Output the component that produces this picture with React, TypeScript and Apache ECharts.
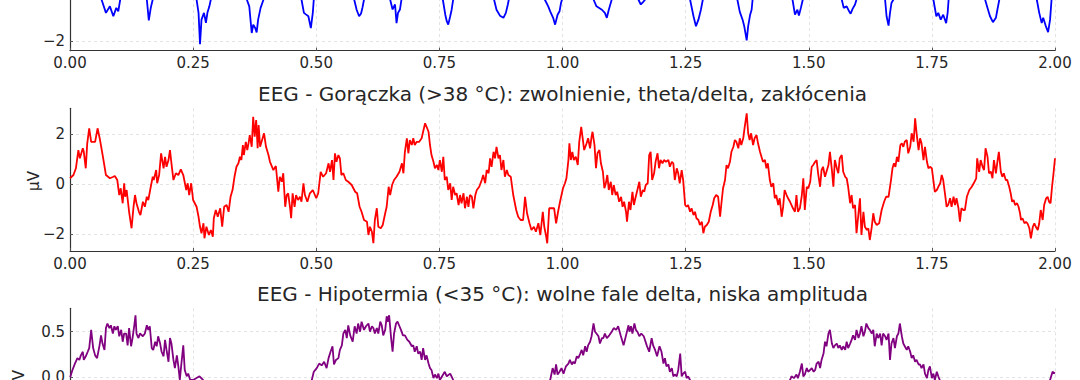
import React, { useEffect, useRef } from "react";
import * as echarts from "echarts";

const titleFever = "EEG - Gorączka (>38 °C): zwolnienie, theta/delta, zakłócenia";
const titleHypo = "EEG - Hipotermia (<35 °C): wolne fale delta, niska amplituda";
const yName = "μV";

const xTicks = [0, 0.25, 0.5, 0.75, 1, 1.25, 1.5, 1.75, 2];
const normalYTicks = [-2, 0, 2];
const normalYLabels = [-2];
const feverYTicks = [-2, 0, 2];
const hypoYTicks = [-0.5, 0, 0.5];

const normalPoints: [number, number][] = [
  [0, 0.4], [0.03, 1.6], [0.064, -0.65], [0.073, -1.08], [0.081, -0.87], [0.088, -1.19], [0.094, -0.92], [0.098, -1.03], [0.102, -0.65],
  [0.129, 1.5], [0.156, -0.65], [0.16, -1.32], [0.164, -0.92], [0.168, -0.65],
  [0.21, 1.7], [0.257, -0.65], [0.261, -1.08], [0.264, -2.09], [0.267, -1.3], [0.272, -1.08], [0.276, -1.4], [0.279, -1.08], [0.283, -0.87], [0.286, -0.65],
  [0.322, 1.6], [0.359, -0.65], [0.364, -0.87], [0.369, -1.73], [0.372, -1.46], [0.376, -1.57], [0.379, -1.71], [0.382, -1.3], [0.387, -0.92], [0.393, -0.65],
  [0.43, 1.8], [0.47, -0.65], [0.475, -1.08], [0.479, -1.13], [0.484, -1.19], [0.489, -1.57], [0.493, -1.08], [0.495, -0.65],
  [0.536, 1.6], [0.577, -0.65], [0.582, -0.98], [0.587, -1.19], [0.591, -1.1], [0.594, -0.9], [0.597, -0.65],
  [0.623, 1.5], [0.65, -0.65], [0.655, -0.97], [0.66, -0.81], [0.663, -1.41], [0.666, -1.08], [0.67, -0.97], [0.673, -0.65],
  [0.715, 1.7], [0.757, -0.65], [0.762, -1.14], [0.765, -1.35], [0.768, -1.46], [0.772, -1.19], [0.775, -0.97], [0.778, -0.65],
  [0.82, 1.6], [0.861, -0.65], [0.866, -0.98], [0.873, -1.17], [0.88, -1.24], [0.885, -1.08], [0.889, -0.81], [0.891, -0.65],
  [0.928, 1.7], [0.964, -0.65], [0.971, -0.87], [0.975, -1.03], [0.981, -1.24], [0.985, -1.46], [0.99, -1.14], [0.994, -1.03], [0.997, -0.76], [0.999, -0.65],
  [1.031, 1.6], [1.063, -0.65], [1.069, -0.87], [1.08, -0.98], [1.086, -1.08], [1.09, -1.24], [1.094, -0.98], [1.1, -0.65],
  [1.127, 1.4], [1.154, -0.65], [1.159, -0.81], [1.163, -0.74], [1.168, -0.65],
  [1.213, 1.8], [1.259, -0.65], [1.266, -1.19], [1.271, -1.51], [1.276, -1.3], [1.281, -0.98], [1.285, -0.65],
  [1.32, 1.6], [1.355, -0.65], [1.36, -1.05], [1.366, -1.32], [1.369, -1.51], [1.374, -1.97], [1.377, -1.51], [1.381, -1.14], [1.384, -0.98], [1.386, -0.65],
  [1.426, 1.7], [1.467, -0.65], [1.472, -1.14], [1.477, -0.98], [1.48, -1.17], [1.484, -0.92], [1.488, -0.65],
  [1.527, 1.6], [1.567, -0.65], [1.571, -0.92], [1.577, -0.87], [1.582, -1.03], [1.585, -1.11], [1.589, -0.95], [1.594, -0.81], [1.597, -0.65],
  [1.626, 1.5], [1.655, -0.65], [1.658, -1.19], [1.662, -1.49], [1.665, -1.08], [1.668, -0.76], [1.672, -0.65],
  [1.712, 1.7], [1.753, -0.65], [1.759, -1.19], [1.763, -1.08], [1.768, -1.3], [1.773, -1.14], [1.779, -1.41], [1.782, -1.08], [1.784, -0.65],
  [1.821, 1.6], [1.858, -0.65], [1.863, -0.92], [1.868, -1.19], [1.874, -1.38], [1.88, -1.24], [1.883, -0.98], [1.887, -0.65],
  [1.925, 1.7], [1.963, -0.65], [1.968, -1.08], [1.973, -1.41], [1.976, -1.24], [1.981, -1.49], [1.986, -1.7], [1.99, -1.3], [1.993, -0.65], [2.0, 0.6],
];

const feverPoints: [number, number][] = [
  [0, 0.23], [0.007, 0.36], [0.012, 0.63], [0.017, 1.36], [0.02, 1.03], [0.026, 1.43], [0.028, 1.29], [0.032, 0.63], [0.035, 1.63], [0.039, 2.23], [0.043, 1.69], [0.051, 1.69], [0.056, 2.23], [0.061, 1.76], [0.068, 0.96], [0.073, 0.36], [0.081, 0.23], [0.088, 0.29], [0.091, 0.32], [0.096, 0.16], [0.1, -0.44], [0.103, -0.17], [0.107, -0.77], [0.11, 0.03], [0.112, -0.51], [0.115, -0.24], [0.12, -1.11], [0.125, -1.77], [0.129, -0.91], [0.132, -0.44], [0.135, -0.77], [0.14, -1.11], [0.143, -1.24], [0.148, -0.71], [0.152, -0.91], [0.156, -0.51], [0.159, -0.64], [0.164, -0.11], [0.168, 0.29], [0.17, 0.16], [0.175, 0.56], [0.177, 0.03], [0.181, 0.36], [0.185, 1.23], [0.19, 0.63], [0.193, 1.09], [0.196, 0.69], [0.2, 0.96], [0.203, 1.36], [0.206, 0.83], [0.21, 0.16], [0.215, 0.43], [0.22, 0.36], [0.225, 0.59], [0.23, 0.36], [0.236, -0.24], [0.239, 0.03], [0.242, -0.44], [0.246, 0.03], [0.25, -0.64], [0.257, -0.91], [0.261, -1.31], [0.264, -1.71], [0.267, -1.97], [0.271, -1.57], [0.273, -2.17], [0.277, -1.71], [0.282, -2.04], [0.286, -1.84], [0.29, -2.11], [0.292, -1.37], [0.296, -1.04], [0.3, -1.31], [0.305, -0.97], [0.309, -1.71], [0.313, -0.91], [0.318, -0.84], [0.322, -1.11], [0.326, -0.51], [0.33, -0.24], [0.334, 0.29], [0.338, 0.69], [0.342, 0.83], [0.345, 1.09], [0.348, 0.96], [0.351, 1.56], [0.353, 1.16], [0.357, 1.69], [0.36, 1.36], [0.363, 1.69], [0.365, 1.96], [0.369, 1.49], [0.372, 2.69], [0.375, 1.89], [0.378, 2.56], [0.381, 1.43], [0.383, 2.36], [0.386, 1.49], [0.39, 1.76], [0.394, 2.03], [0.398, 1.49], [0.403, 1.16],
  [0.406, 0.89], [0.413, 0.56], [0.418, 0.72], [0.423, -0.31], [0.426, 0.29], [0.43, 0.09], [0.433, 0.43], [0.437, -0.91], [0.44, -0.44], [0.443, -0.37], [0.447, -0.97], [0.449, -1.37], [0.452, -0.37], [0.456, -0.91], [0.459, -0.44], [0.463, -0.64], [0.467, -0.51], [0.47, -0.71], [0.474, 0.03], [0.477, -0.44], [0.482, -0.71], [0.487, -0.37], [0.493, -0.24], [0.5, -0.57], [0.504, -0.37], [0.509, 0.49], [0.514, 0.29], [0.52, 0.43], [0.525, 0.83], [0.528, 0.49], [0.532, 0.96], [0.535, 0.16], [0.538, 1.23], [0.541, 0.89], [0.545, 1.16], [0.548, 1.03], [0.551, 0.36], [0.555, 0.43], [0.56, 0.16], [0.565, 0.09], [0.572, -0.04], [0.579, -0.31], [0.583, -0.37], [0.588, -0.91], [0.592, -1.11], [0.597, -1.44], [0.603, -1.51], [0.606, -2.04], [0.609, -1.71], [0.613, -1.91], [0.616, -2.37], [0.619, -1.44], [0.623, -0.97], [0.626, -1.71], [0.631, -1.77], [0.635, -1.64], [0.64, -1.17], [0.643, -0.91], [0.647, -0.11], [0.65, -0.44], [0.654, -0.04], [0.658, 0.16], [0.663, 0.29], [0.669, 0.49], [0.674, 0.83], [0.677, 0.43], [0.68, 1.29], [0.684, 1.83], [0.687, 1.23], [0.69, 1.76], [0.694, 1.56], [0.697, 1.83], [0.7, 1.56], [0.704, 1.69], [0.709, 1.69], [0.714, 1.83], [0.717, 2.09], [0.721, 2.43], [0.724, 2.29], [0.728, 2.09], [0.731, 1.56], [0.734, 1.16], [0.738, 0.89], [0.741, 0.63], [0.745, 0.76], [0.748, 0.56], [0.751, 0.96], [0.755, 0.49], [0.758, 1.09], [0.761, 0.16], [0.765, 0.29], [0.768, -0.24], [0.772, 0.03], [0.775, -0.64], [0.778, -0.11], [0.782, -0.44], [0.785, -0.37], [0.789, -0.84], [0.792, -0.44], [0.795, -0.77], [0.799, -0.37], [0.802, -0.97], [0.806, -0.51], [0.809, -0.91], [0.812, -0.44], [0.816, -0.51], [0.819, -0.97], [0.823, -0.44], [0.826, -0.24], [0.831, -0.11], [0.836, 0.16], [0.839, 0.36], [0.843, 0.03], [0.846, 0.56], [0.85, 0.43], [0.853, 1.03], [0.856, 0.69], [0.86, 1.29], [0.863, 1.03], [0.866, 1.49], [0.87, 1.03], [0.873, 1.16], [0.876, 0.56], [0.88, 0.96], [0.883, 0.29], [0.887, 0.56], [0.89, 0.36], [0.895, 0.29], [0.9, -0.44], [0.906, -1.04], [0.91, -1.31], [0.915, -1.44], [0.92, -1.44], [0.924, -0.51], [0.928, -1.17], [0.933, -1.57], [0.937, -1.84], [0.942, -1.71], [0.946, -1.91], [0.951, -1.57],
  [0.955, -2.04], [0.96, -1.11], [0.963, -1.71], [0.967, -2.11], [0.969, -2.37], [0.973, -0.97], [0.978, -0.97], [0.983, -0.97], [0.987, -1.57], [0.991, -1.11], [0.995, -0.71], [0.998, -0.44], [1.001, -0.17], [1.005, 0.03], [1.008, 0.23], [1.012, 0.96], [1.014, 1.63], [1.017, 0.96], [1.02, 1.29], [1.023, 0.96], [1.027, 1.09], [1.031, 0.76], [1.034, 1.69], [1.038, 2.29], [1.041, 1.83], [1.044, 1.36], [1.049, 1.63], [1.052, 1.83], [1.056, 1.43], [1.059, 1.89], [1.061, 2.09], [1.065, 1.56], [1.068, 0.63], [1.071, 1.23], [1.075, 1.36], [1.078, 0.83], [1.082, 0.49], [1.085, -0.17], [1.088, 0.03], [1.091, 0.36], [1.094, -0.24], [1.098, 0.09], [1.101, -0.44], [1.104, -0.04], [1.108, -0.44], [1.111, -0.31], [1.115, -0.71], [1.119, -0.51], [1.122, -0.91], [1.125, -0.71], [1.129, -1.11], [1.131, -1.51], [1.135, -0.71], [1.138, -1.04], [1.142, -0.31], [1.145, -0.84], [1.148, -0.57], [1.152, -0.24], [1.156, 0.09], [1.159, -0.51], [1.163, -0.24], [1.166, -0.31], [1.169, -0.04], [1.173, 0.03], [1.176, 1.16], [1.179, 1.29], [1.182, 0.16], [1.186, 0.43], [1.189, 0.89], [1.193, 1.23], [1.196, 0.63], [1.199, 0.96], [1.203, 0.83], [1.206, 0.96], [1.21, 0.89], [1.215, 0.96], [1.218, 0.69], [1.222, 0.89], [1.225, 0.83], [1.228, 0.16], [1.232, 0.63], [1.235, 0.43], [1.238, 0.03], [1.242, 0.56], [1.245, 0.16], [1.249, -0.84], [1.252, -0.91], [1.255, -0.84], [1.259, -1.11], [1.262, -0.97], [1.266, -1.24], [1.269, -1.11], [1.272, -1.37], [1.276, -1.44], [1.279, -1.64], [1.283, -1.51], [1.286, -1.97], [1.289, -1.71], [1.293, -1.64], [1.297, -1.51], [1.301, -1.11], [1.305, -0.84], [1.308, -0.57], [1.312, -0.44], [1.316, -0.51], [1.32, -1.31], [1.323, -0.71], [1.326, -0.17], [1.33, 0.16], [1.333, 0.76], [1.336, 0.63], [1.34, 0.89], [1.343, 1.29], [1.347, 1.49], [1.35, 1.76], [1.353, 1.69], [1.357, 1.43], [1.36, 1.83], [1.363, 1.56], [1.367, 1.83], [1.37, 2.29], [1.374, 2.83], [1.377, 2.03], [1.38, 1.76], [1.383, 2.03], [1.387, 1.56], [1.39, 1.83], [1.394, 1.96], [1.397, 1.63], [1.401, 1.29], [1.404, 1.09], [1.407, 0.89], [1.411, 0.96], [1.414, 0.63], [1.417, 0.83], [1.421, 0.16], [1.424, -0.11], [1.428, 0.03], [1.431, -0.57], [1.434, -0.44], [1.438, -0.84], [1.441, -0.57], [1.445, -1.31], [1.448, -0.91], [1.451, -0.24], [1.455, -0.44], [1.458, -0.57], [1.462, -0.71], [1.465, -0.84], [1.468, -0.97], [1.472, -1.11], [1.475, -0.44], [1.478, -1.11],
  [1.482, -0.97], [1.486, -0.44], [1.489, 0.23], [1.492, -1.04], [1.496, -0.11], [1.499, -0.17], [1.503, 0.09], [1.506, 0.69], [1.509, 0.76], [1.513, 0.89], [1.516, 0.96], [1.519, 0.43], [1.523, -0.11], [1.526, 0.56], [1.529, 0.69], [1.533, 0.29], [1.536, 0.49], [1.54, 0.76], [1.543, 1.29], [1.547, 0.56], [1.55, -0.11], [1.553, 0.96], [1.557, 0.63], [1.56, 0.43], [1.563, 1.03], [1.567, 1.16], [1.57, 0.49], [1.574, 0.29], [1.577, 0.23], [1.58, -0.11], [1.584, -0.77], [1.587, -0.44], [1.59, -0.97], [1.594, -0.84], [1.597, -1.97], [1.601, -1.17], [1.604, -0.57], [1.607, -2.04], [1.611, -1.11], [1.614, -1.71], [1.618, -1.84], [1.621, -1.77], [1.624, -2.24], [1.628, -1.71], [1.631, -1.17], [1.634, -1.51], [1.638, -1.64], [1.643, -1.57], [1.648, -1.04], [1.653, -0.71], [1.657, -0.51], [1.662, -0.51], [1.667, 0.16], [1.67, 0.63], [1.673, 0.83], [1.676, 0.69], [1.679, 1.09], [1.682, 0.89], [1.686, 1.56], [1.689, 1.63], [1.692, 1.49], [1.695, 1.69], [1.699, 1.76], [1.702, 1.23], [1.706, 1.49], [1.709, 2.03], [1.713, 1.69], [1.716, 2.63], [1.719, 2.03], [1.723, 1.36], [1.726, 1.83], [1.729, 1.63], [1.733, 0.96], [1.736, 1.49], [1.74, 0.89], [1.743, 0.63], [1.746, 0.69], [1.75, 0.63], [1.753, 0.16], [1.756, -0.31], [1.76, -0.24], [1.763, -0.11], [1.767, 0.03], [1.77, 0.36], [1.773, 0.16], [1.777, -0.44], [1.78, -0.91], [1.783, -0.84], [1.787, -0.57], [1.79, -0.91], [1.794, -0.51], [1.797, -0.84], [1.8, -0.57], [1.804, -0.97], [1.807, -1.51], [1.81, -0.97], [1.814, -1.04], [1.817, -1.04], [1.821, -0.51], [1.826, -0.24], [1.831, -0.11], [1.835, 0.03], [1.84, 0.23], [1.842, 1.03], [1.846, 0.49], [1.849, 0.96], [1.853, 0.69], [1.856, 0.56], [1.859, 1.43], [1.863, 1.09], [1.866, 0.43], [1.87, 0.49], [1.873, 0.23], [1.876, 0.96], [1.88, 0.43], [1.883, 0.89], [1.886, 1.29], [1.89, 0.49], [1.893, 0.29], [1.896, 0.43], [1.9, 0.16], [1.903, 0.16], [1.907, -0.11], [1.91, -0.37], [1.913, -0.71], [1.916, -0.64], [1.919, -0.84], [1.923, -0.77], [1.926, -0.91], [1.929, -1.17], [1.931, -1.44], [1.934, -1.37], [1.938, -1.57], [1.941, -1.51], [1.944, -1.57], [1.948, -1.77], [1.951, -2.17], [1.955, -1.71], [1.958, -1.57], [1.961, -1.71], [1.965, -1.84], [1.968, -1.57], [1.971, -1.04], [1.975, -1.44], [1.978, -0.84], [1.982, -0.57], [1.985, -0.51], [1.988, -0.71], [1.991, -0.77], [1.994, -0.11], [1.997, 0.43], [2.0, 1.03],
];

const hypoPoints: [number, number][] = [
  [0, 0.0], [0.001, 0.01], [0.005, 0.08], [0.01, 0.15], [0.015, 0.21], [0.019, 0.19], [0.022, 0.24], [0.026, 0.28], [0.028, 0.19], [0.032, 0.23], [0.036, 0.28], [0.039, 0.32], [0.043, 0.52], [0.047, 0.32], [0.051, 0.24], [0.055, 0.21], [0.06, 0.35], [0.063, 0.46], [0.066, 0.37], [0.07, 0.3], [0.073, 0.54], [0.076, 0.59], [0.08, 0.54], [0.083, 0.57], [0.087, 0.48], [0.09, 0.56], [0.093, 0.52], [0.097, 0.56], [0.1, 0.45], [0.104, 0.52], [0.107, 0.39], [0.11, 0.48], [0.114, 0.48], [0.117, 0.35], [0.12, 0.54], [0.124, 0.34], [0.127, 0.43], [0.131, 0.59], [0.133, 0.68], [0.135, 0.48], [0.139, 0.43], [0.142, 0.48], [0.148, 0.45], [0.152, 0.48], [0.156, 0.57], [0.159, 0.52], [0.162, 0.56], [0.166, 0.32], [0.169, 0.3], [0.173, 0.39], [0.176, 0.34], [0.179, 0.45], [0.183, 0.37], [0.186, 0.28], [0.19, 0.23], [0.193, 0.41], [0.196, 0.3], [0.2, 0.17], [0.203, 0.43], [0.206, 0.37], [0.21, 0.19], [0.213, 0.1], [0.217, 0.24], [0.22, 0.12], [0.223, -0.03], [0.226, 0.14], [0.23, 0.35], [0.233, 0.08], [0.237, 0.01], [0.24, 0.04], [0.244, -0.03], [0.25, -0.03], [0.263, 0.01], [0.27, -0.03],
  [0.29, -0.2], [0.32, -0.42], [0.35, -0.55], [0.38, -0.6], [0.41, -0.55], [0.44, -0.42], [0.47, -0.2],
  [0.491, -0.03], [0.495, 0.06], [0.501, 0.1], [0.506, 0.15], [0.511, 0.13], [0.516, 0.17], [0.521, 0.1], [0.525, 0.21], [0.529, 0.28], [0.533, 0.34], [0.536, 0.14], [0.54, 0.19], [0.545, 0.21], [0.548, 0.3], [0.552, 0.35], [0.555, 0.48], [0.559, 0.52], [0.562, 0.43], [0.565, 0.57], [0.569, 0.46], [0.574, 0.39], [0.578, 0.56], [0.582, 0.48], [0.585, 0.59], [0.589, 0.5], [0.592, 0.61], [0.597, 0.52], [0.601, 0.56], [0.606, 0.59], [0.609, 0.5], [0.613, 0.56], [0.616, 0.54], [0.619, 0.48], [0.623, 0.54], [0.626, 0.48], [0.63, 0.61], [0.633, 0.57], [0.636, 0.46], [0.64, 0.52], [0.643, 0.67], [0.645, 0.61], [0.648, 0.68], [0.652, 0.43], [0.655, 0.28], [0.658, 0.48], [0.662, 0.59], [0.665, 0.61], [0.669, 0.56], [0.672, 0.52], [0.676, 0.46], [0.68, 0.46], [0.685, 0.41], [0.689, 0.39], [0.694, 0.34], [0.697, 0.35], [0.7, 0.28], [0.704, 0.34], [0.707, 0.26], [0.711, 0.28], [0.714, 0.19], [0.717, 0.32], [0.721, 0.19], [0.724, 0.24], [0.728, 0.15], [0.731, 0.1], [0.734, 0.08], [0.738, -0.01], [0.741, 0.03], [0.745, -0.01], [0.748, 0.04], [0.751, -0.03], [0.761, 0.06], [0.765, 0.01], [0.772, 0.04], [0.778, -0.03],
  [0.8, -0.2], [0.83, -0.45], [0.86, -0.58], [0.89, -0.6], [0.92, -0.5], [0.95, -0.25],
  [0.975, -0.03], [0.98, 0.1], [0.984, 0.03], [0.987, 0.14], [0.99, 0.03], [0.994, 0.06], [0.998, 0.1], [1.002, 0.04], [1.007, 0.12], [1.012, 0.15], [1.015, 0.19], [1.019, 0.14], [1.022, 0.17], [1.025, 0.15], [1.029, 0.23], [1.032, 0.21], [1.036, 0.26], [1.039, 0.3], [1.042, 0.24], [1.046, 0.34], [1.049, 0.28], [1.052, 0.35], [1.056, 0.39], [1.059, 0.45], [1.063, 0.59], [1.066, 0.5], [1.069, 0.48], [1.073, 0.45], [1.076, 0.37], [1.08, 0.43], [1.083, 0.43], [1.086, 0.48], [1.09, 0.43], [1.095, 0.46], [1.1, 0.5], [1.104, 0.54], [1.109, 0.52], [1.113, 0.56], [1.118, 0.46], [1.124, 0.35], [1.129, 0.46], [1.134, 0.57], [1.136, 0.5], [1.139, 0.56], [1.142, 0.48], [1.146, 0.59], [1.149, 0.52], [1.152, 0.5], [1.156, 0.45], [1.16, 0.48], [1.165, 0.45], [1.171, 0.35], [1.176, 0.28], [1.181, 0.43], [1.184, 0.35], [1.188, 0.3], [1.192, 0.23], [1.197, 0.34], [1.201, 0.28], [1.205, 0.15], [1.208, 0.21], [1.211, 0.12], [1.215, 0.14], [1.218, 0.06], [1.222, 0.1], [1.225, 0.01], [1.228, 0.03], [1.232, 0.01], [1.235, 0.08], [1.239, 0.26], [1.242, 0.01], [1.245, 0.04], [1.249, 0.06], [1.252, -0.01], [1.255, 0.01], [1.259, -0.03],
  [1.28, -0.2], [1.31, -0.42], [1.34, -0.56], [1.37, -0.6], [1.4, -0.52], [1.43, -0.35], [1.45, -0.15],
  [1.462, -0.03], [1.465, 0.01], [1.47, -0.01], [1.475, 0.03], [1.478, -0.01], [1.482, 0.06], [1.486, 0.15], [1.489, 0.01], [1.492, 0.03], [1.496, 0.1], [1.499, 0.06], [1.503, 0.08], [1.506, 0.1], [1.51, 0.06], [1.513, 0.08], [1.516, 0.15], [1.52, 0.17], [1.523, 0.1], [1.526, 0.19], [1.53, 0.26], [1.533, 0.39], [1.536, 0.34], [1.54, 0.48], [1.543, 0.52], [1.547, 0.37], [1.55, 0.32], [1.553, 0.35], [1.557, 0.37], [1.56, 0.32], [1.563, 0.35], [1.567, 0.3], [1.57, 0.34], [1.574, 0.3], [1.577, 0.39], [1.58, 0.32], [1.584, 0.37], [1.587, 0.41], [1.59, 0.46], [1.594, 0.41], [1.597, 0.52], [1.601, 0.43], [1.604, 0.48], [1.607, 0.56], [1.611, 0.45], [1.614, 0.5], [1.617, 0.59], [1.621, 0.54], [1.624, 0.52], [1.628, 0.48], [1.631, 0.52], [1.634, 0.34], [1.638, 0.48], [1.641, 0.43], [1.645, 0.48], [1.648, 0.35], [1.651, 0.48], [1.655, 0.45], [1.658, 0.41], [1.662, 0.48], [1.665, 0.19], [1.668, 0.37], [1.672, 0.43], [1.675, 0.32], [1.679, 0.45], [1.682, 0.48], [1.685, 0.59], [1.689, 0.45], [1.692, 0.37], [1.695, 0.34], [1.699, 0.3], [1.702, 0.34], [1.706, 0.28], [1.709, 0.21], [1.712, 0.24], [1.716, 0.17], [1.719, 0.19], [1.723, 0.14], [1.726, 0.14], [1.729, 0.1], [1.733, 0.14], [1.736, 0.04], [1.74, -0.01], [1.743, 0.08], [1.746, 0.12], [1.75, -0.01], [1.753, 0.04], [1.756, -0.03], [1.76, 0.06], [1.763, 0.01], [1.766, -0.03],
  [1.79, -0.2], [1.82, -0.45], [1.85, -0.58], [1.88, -0.6], [1.91, -0.5], [1.94, -0.35], [1.97, -0.18],
  [1.99, -0.03], [1.995, 0.06], [2.0, 0.04],
];

const FONT = "'DejaVu Sans', 'Liberation Sans', sans-serif";
const TEXT = "#262626";
const OFFSET = 100; // chart is shifted up so the top panel is cropped like the reference

const fmt = (v: number, d: number) => (v < 0 ? "\u2212" : "") + Math.abs(v).toFixed(d);

export default function App() {
  const ref = useRef<HTMLDivElement>(null);
  useEffect(() => {
    if (!ref.current) return;
    const chart = echarts.init(ref.current, undefined, { renderer: "svg" });
    const left = 70;
    const width = 985;
    const h = 142.7;
    const tops = [-92 + OFFSET, 108.3 + OFFSET, 308.3 + OFFSET];
    const grids = tops.map((t) => ({ left, width, top: t, height: h, containLabel: false }));
    const splitStyle = { show: true, lineStyle: { color: "#dcdcdc", type: [3, 3], width: 0.8 } };
    const xAxes = tops.map((_, i) => ({
      type: "value",
      gridIndex: i,
      min: xTicks[0],
      max: xTicks[xTicks.length - 1],
      interval: xTicks[1] - xTicks[0],
      axisLine: { show: true, onZero: false, lineStyle: { color: "#333333", width: 1.2 } },
      axisTick: { show: true, inside: true, length: 3, lineStyle: { color: "#555555", width: 1 } },
      axisLabel: { color: TEXT, fontSize: 15, fontFamily: FONT, margin: 5, formatter: (v: number) => v.toFixed(2), showMinLabel: true, showMaxLabel: true },
      splitLine: splitStyle,
    }));
    const yDefs = [
      { min: -2.3, max: 2.3, ticks: normalYTicks, labels: normalYLabels, d: 0 },
      { min: -2.68, max: 3.03, ticks: feverYTicks, labels: feverYTicks, d: 0 },
      { min: -0.81, max: 0.757, ticks: hypoYTicks, labels: hypoYTicks, d: 1 },
    ];
    const yAxes = yDefs.map((y, i) => ({
      type: "value",
      gridIndex: i,
      min: y.min,
      max: y.max,
      axisLine: { show: true, onZero: false, lineStyle: { color: "#333333", width: 1.2 } },
      axisTick: { show: true, inside: true, length: 3, customValues: y.ticks, lineStyle: { color: "#555555", width: 1 } },
      axisLabel: { color: TEXT, fontSize: 15, fontFamily: FONT, margin: 5, customValues: y.labels, formatter: (v: number) => fmt(v, y.d) },
      splitLine: splitStyle,
    }));
    const mk = (data: [number, number][], color: string, i: number) => ({
      type: "line",
      xAxisIndex: i,
      yAxisIndex: i,
      data,
      showSymbol: false,
      symbol: "none",
      lineStyle: { color, width: 1.8 },
      itemStyle: { color },
      clip: true,
    });
    chart.setOption({
      animation: false,
      backgroundColor: "#ffffff",
      grid: grids,
      xAxis: xAxes,
      yAxis: yAxes,
      series: [mk(normalPoints, "#0000ff", 0), mk(feverPoints, "#ff0000", 1), mk(hypoPoints, "#800080", 2)],
      graphic: [
        { type: "text", x: 562.5, y: 93.5 + OFFSET, style: { text: titleFever, fill: TEXT, fontSize: 20, fontFamily: FONT, align: "center", verticalAlign: "middle" } },
        { type: "text", x: 562.5, y: 294 + OFFSET, style: { text: titleHypo, fill: TEXT, fontSize: 20, fontFamily: FONT, align: "center", verticalAlign: "middle" } },
        { type: "text", x: 34, y: 181 + OFFSET, rotation: Math.PI / 2, style: { text: yName, fill: TEXT, fontSize: 15, fontFamily: FONT, align: "center", verticalAlign: "middle" } },
        { type: "text", x: 19, y: 380 + OFFSET, rotation: Math.PI / 2, style: { text: yName, fill: TEXT, fontSize: 15, fontFamily: FONT, align: "center", verticalAlign: "middle" } },
      ],
    });
    return () => chart.dispose();
  }, []);
  return <div ref={ref} style={{ position: "fixed", left: 0, top: -OFFSET, width: 1080, height: 600 }} />;
}
